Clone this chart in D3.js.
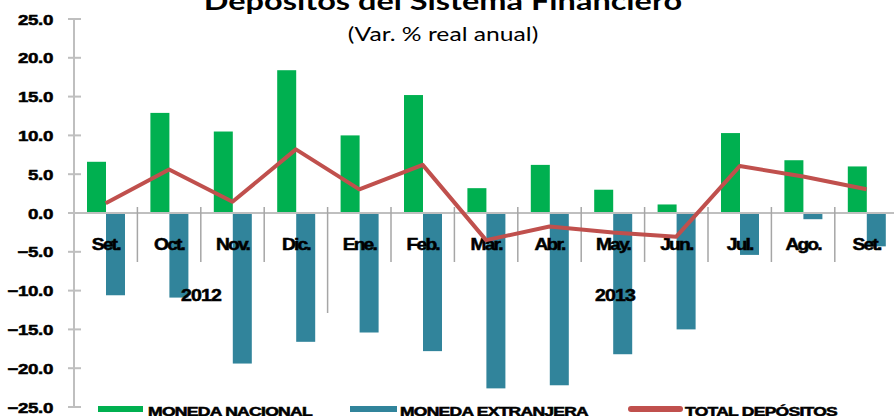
<!DOCTYPE html>
<html>
<head>
<meta charset="utf-8">
<script src="https://cdn.jsdelivr.net/npm/d3@7"></script>
<style>
  body { margin: 0; background: #fff; }
  svg { display: block; }
  .lbl { font-family: "Liberation Sans", Arial, sans-serif; font-weight: bold; fill: #000; stroke: #000; stroke-width: 0.5px; }
</style>
</head>
<body>
<svg id="chart" width="894" height="416"></svg>
<script>
// datos
const meses = ['Set.', 'Oct.', 'Nov.', 'Dic.', 'Ene.', 'Feb.', 'Mar.', 'Abr.', 'May.', 'Jun.', 'Jul.', 'Ago.', 'Set.']
const monedaNacional = [6.6, 12.9, 10.5, 18.4, 10.0, 15.2, 3.2, 6.2, 3.0, 1.1, 10.3, 6.8, 6.0]
const monedaExtranjera = [-10.6, -10.9, -19.4, -16.6, -15.4, -17.8, -22.6, -22.2, -18.2, -15.0, -5.4, -0.8, -4.3]
const totalDepositos = [1.25, 5.6, 1.45, 8.2, 3.05, 6.2, -3.5, -1.75, -2.5, -3.05, 6.05, 4.7, 3.05]
const yTicks = [25, 20, 15, 10, 5, 0, -5, -10, -15, -20, -25]
const anios = [{ txt: '2012', x: 201 }, { txt: '2013', x: 615 }]

const colores = { nac: '#00b050', ext: '#31849b', tot: '#c0504d' }

const svg = d3.select('#chart')
const left = 74, bandW = 63.4

// escalas
let x0 = d3.scaleBand()
  .domain(d3.range(meses.length))
  .range([left, left + bandW * meses.length])
let x1 = d3.scaleBand()
  .domain(['nac', 'ext'])
  .range([13, 51])
let y = d3.scaleLinear()
  .domain([-25, 25])
  .range([407, 19])

// titulo (la imagen original esta estirada a lo ancho)
svg.append('text')
  .attr('text-anchor', 'middle')
  .attr('transform', 'translate(443,10) scale(1.3,1)')
  .style('font-family', 'Lato, "Open Sans", sans-serif')
  .style('font-weight', 'bold')
  .style('font-size', '25px')
  .text('Depósitos del Sistema Financiero')
svg.append('text')
  .attr('text-anchor', 'middle')
  .attr('transform', 'translate(443,41) scale(1.3,1)')
  .style('font-family', 'Lato, "Open Sans", sans-serif')
  .style('font-size', '19px')
  .text('(Var. % real anual)')

// barras
let grupos = svg.append('g').selectAll('g')
  .data(meses)
  .enter()
  .append('g')
  .attr('transform', (d, i) => `translate(${x0(i)},0)`)

grupos.append('rect')
  .attr('x', x1('nac'))
  .attr('width', x1.bandwidth())
  .attr('y', (d, i) => y(Math.max(0, monedaNacional[i])))
  .attr('height', (d, i) => Math.abs(y(monedaNacional[i]) - y(0)))
  .attr('fill', colores.nac)

grupos.append('rect')
  .attr('x', x1('ext'))
  .attr('width', x1.bandwidth())
  .attr('y', (d, i) => y(Math.max(0, monedaExtranjera[i])))
  .attr('height', (d, i) => Math.abs(y(monedaExtranjera[i]) - y(0)))
  .attr('fill', colores.ext)

// eje y
let yAxis = svg.append('g')
yAxis.append('line')
  .attr('x1', left).attr('x2', left)
  .attr('y1', y(25)).attr('y2', y(-25))
  .attr('stroke', '#bfbfbf').attr('stroke-width', 2)
yAxis.selectAll('line.tk')
  .data(yTicks)
  .enter()
  .append('line')
  .attr('class', 'tk')
  .attr('x1', 68).attr('x2', 81)
  .attr('y1', d => y(d)).attr('y2', d => y(d))
  .attr('stroke', '#bfbfbf').attr('stroke-width', 2)
yAxis.selectAll('text')
  .data(yTicks)
  .enter()
  .append('text')
  .attr('class', 'lbl')
  .attr('text-anchor', 'end')
  .attr('transform', d => `translate(53,${y(d) + 5.5}) scale(1.25,1)`)
  .style('font-size', '15px')
  .style('letter-spacing', '-0.3px')
  .text(d => d3.format('.1f')(d))

// eje x (linea cero)
svg.append('line')
  .attr('x1', left).attr('x2', 894)
  .attr('y1', y(0)).attr('y2', y(0))
  .attr('stroke', '#bfbfbf').attr('stroke-width', 2)

// separadores de categorias
svg.append('g').selectAll('line')
  .data(d3.range(1, meses.length))
  .enter()
  .append('line')
  .attr('x1', i => x0(i)).attr('x2', i => x0(i))
  .attr('y1', y(0) - 6)
  .attr('y2', i => i === 4 ? 313 : 262)
  .attr('stroke', '#a6a6a6').attr('stroke-width', 1.5)

// etiquetas de meses
svg.append('g').selectAll('text')
  .data(meses)
  .enter()
  .append('text')
  .attr('class', 'lbl')
  .attr('text-anchor', 'middle')
  .attr('transform', (d, i) => `translate(${x0(i) + x0.bandwidth() / 2},250) scale(1.2,1)`)
  .style('font-size', '16px')
  .style('letter-spacing', '-1.5px')
  .text(d => d)

// anios
svg.append('g').selectAll('text')
  .data(anios)
  .enter()
  .append('text')
  .attr('class', 'lbl')
  .attr('text-anchor', 'middle')
  .attr('transform', d => `translate(${d.x},301) scale(1.15,1)`)
  .style('font-size', '17px')
  .style('letter-spacing', '-0.8px')
  .text(d => d.txt)

// linea total
let line = d3.line()
  .x((d, i) => x0(i) + x0.bandwidth() / 2)
  .y(d => y(d))
svg.append('path')
  .datum(totalDepositos)
  .attr('d', line)
  .attr('fill', 'none')
  .attr('stroke', colores.tot)
  .attr('stroke-width', 4)
  .attr('stroke-linejoin', 'round')

// leyenda
const leyenda = [
  { txt: 'MONEDA NACIONAL', color: colores.nac, x: 98, w: 45, tx: 148, tw: 164, linea: false },
  { txt: 'MONEDA EXTRANJERA', color: colores.ext, x: 350, w: 47, tx: 400, tw: 188, linea: false },
  { txt: 'TOTAL DEPÓSITOS', color: colores.tot, x: 631, w: 49, tx: 685, tw: 152, linea: true }
]
let items = svg.append('g').selectAll('g')
  .data(leyenda)
  .enter()
  .append('g')
items.append('line')
  .attr('x1', d => d.x).attr('x2', d => d.x + d.w)
  .attr('y1', 409).attr('y2', 409)
  .attr('stroke', d => d.color)
  .attr('stroke-width', 6)
  .attr('stroke-linecap', d => d.linea ? 'round' : 'butt')
items.append('text')
  .attr('class', 'lbl')
  .attr('x', d => d.tx)
  .attr('y', 416)
  .attr('textLength', d => d.tw)
  .attr('lengthAdjust', 'spacingAndGlyphs')
  .style('font-size', '12px')
  .style('letter-spacing', '-0.5px')
  .text(d => d.txt)
</script>
</body>
</html>
